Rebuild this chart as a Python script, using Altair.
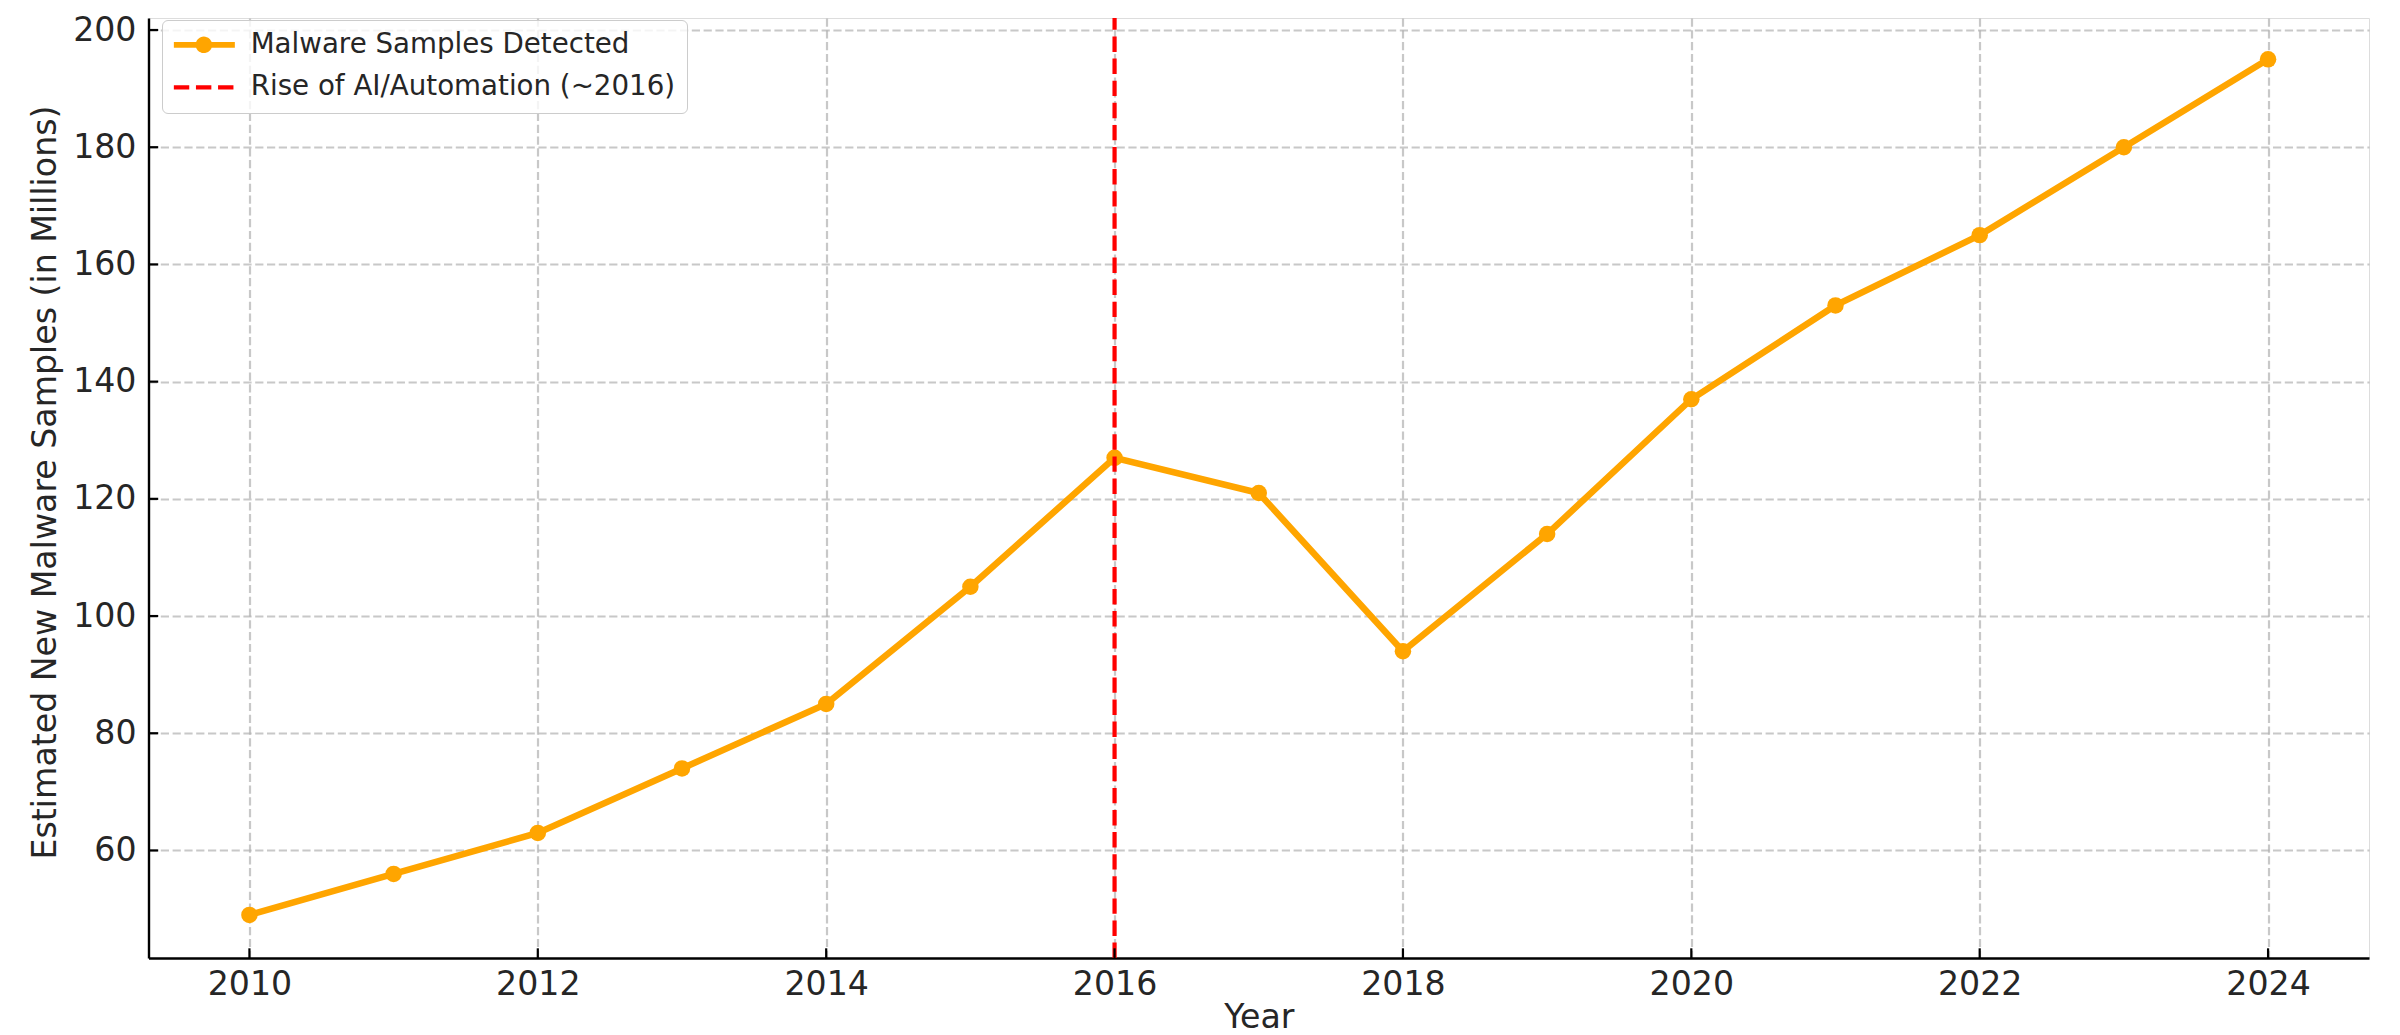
import altair as alt
import pandas as pd

# ---- data ----
years = [2010, 2011, 2012, 2013, 2014, 2015, 2016, 2017, 2018, 2019, 2020, 2021, 2022, 2023, 2024]
samples = [49, 56, 63, 74, 85, 105, 127, 121, 94, 114, 137, 153, 165, 180, 195]
series_name = "Malware Samples Detected"
event_name = "Rise of AI/Automation (~2016)"
event_years = [2016]
x_tick_values = [2010, 2012, 2014, 2016, 2018, 2020, 2022, 2024]
y_tick_values = [60, 80, 100, 120, 140, 160, 180, 200]

# ---- styling ----
W = 2220.5
H = 940
FONT = "DejaVu Sans"
TXT = "#262626"
ORANGE = "#FFA500"
RED = "#FF0000"
TICK_FS = 33.2
LEG_FS = 27.7
LINE_W = 6.5

df = pd.DataFrame({"year": years, "value": samples, "series": series_name})
ev = pd.DataFrame({"year": event_years, "series": event_name})
xt = pd.DataFrame({"year": x_tick_values})
yt = pd.DataFrame({"value": y_tick_values})
leg_df = pd.DataFrame({"series": [series_name, event_name]})

xscale = alt.Scale(domain=[2009.3, 2024.7], nice=False, zero=False)
yscale = alt.Scale(domain=[41.65, 202.05], nice=False, zero=False)
dom = [series_name, event_name]
cscale = alt.Scale(domain=dom, range=[ORANGE, RED])

grid_kw = dict(grid=True, gridColor="#b0b0b0", gridOpacity=0.7, gridWidth=2.2, gridDash=[8.2, 3.6])

xaxis = alt.Axis(values=x_tick_values, format="d", title="Year", ticks=False, tickSize=0,
                 domain=True, domainColor="#000000", domainWidth=2.4,
                 labelFont=FONT, labelFontSize=TICK_FS, labelColor=TXT, labelPadding=10,
                 labelFlush=False, labelOverlap=False,
                 titleFont=FONT, titleFontSize=TICK_FS, titleFontWeight="normal", titleColor=TXT,
                 titleBaseline="alphabetic", titleY=69, **grid_kw)
yaxis = alt.Axis(values=y_tick_values, format="d", title="Estimated New Malware Samples (in Millions)",
                 ticks=False, tickSize=0, domain=True, domainColor="#000000", domainWidth=2.4,
                 labelFont=FONT, labelFontSize=TICK_FS, labelColor=TXT, labelPadding=12.5,
                 labelFlush=False, labelOverlap=False,
                 titleFont=FONT, titleFontSize=TICK_FS, titleFontWeight="normal", titleColor=TXT,
                 titleBaseline="alphabetic", titleX=-93.5, titleY=H / 2 - 6, titleAngle=270, **grid_kw)

X = alt.X("year:Q", scale=xscale, axis=xaxis)
Y = alt.Y("value:Q", scale=yscale, axis=yaxis)

# legend symbols: a line with a filled dot (stroked concentric rings) and a plain line
line_sym = "M-1.3,0H4.8"
dot_sym = ("M-1.3,0H4.8"
           "M2.235,0A0.535,0.535 0 1 1 1.165,0A0.535,0.535 0 1 1 2.235,0Z"
           "M1.95,0A0.25,0.25 0 1 1 1.45,0A0.25,0.25 0 1 1 1.95,0Z")

legend = alt.Legend(
    title=None, orient="none", legendX=13.5, legendY=2,
    labelFont=FONT, labelFontSize=LEG_FS, labelColor=TXT, labelLimit=0,
    symbolSize=400, labelOffset=50, padding=11, rowPadding=10.5,
    symbolOpacity=1,
    fillColor="rgba(255,255,255,0.8)", strokeColor="#cccccc", cornerRadius=5.5,
)

C = alt.Color("series:N", scale=cscale, legend=legend)

line = alt.Chart(df).mark_line(strokeWidth=LINE_W, strokeCap="butt").encode(x=X, y=Y, color=C)
pts = alt.Chart(df).mark_point(filled=True, size=272, opacity=1).encode(x=X, y=Y, color=C)
vline = alt.Chart(ev).mark_rule(strokeWidth=4.2, strokeDash=[15.4, 6.7]).encode(
    x=X, y=alt.value(H), y2=alt.value(0), color=C)
xticks = alt.Chart(xt).mark_rule(color="#000000", strokeWidth=2.2).encode(
    x=X, y=alt.value(H), y2=alt.value(H - 9.7))
yticks = alt.Chart(yt).mark_rule(color="#000000", strokeWidth=2.2).encode(
    y=Y, x=alt.value(0), x2=alt.value(9.7))

# legend-only layer (no rows drawn)
leg_layer = alt.Chart(leg_df).transform_filter("false").mark_point(filled=False).encode(
    color=C,
    shape=alt.Shape("series:N", scale=alt.Scale(domain=dom, range=[dot_sym, line_sym]), legend=legend),
    strokeDash=alt.StrokeDash("series:N", scale=alt.Scale(domain=dom, range=[[1, 0], [15.4, 6.7]]), legend=legend),
    strokeWidth=alt.StrokeWidth("series:N", scale=alt.Scale(domain=dom, range=[5.8, 4.2]), legend=legend),
)

chart = alt.layer(line, pts, vline, xticks, yticks, leg_layer).properties(
    width=W, height=H,
    autosize=alt.AutoSizeParams(type="none"),
    padding={"left": 140.5, "top": 10, "right": 20, "bottom": 90},
).configure_view(strokeWidth=0).configure(background="white")

chart.save("out.html", embed_options={"renderer": "svg", "actions": False})
